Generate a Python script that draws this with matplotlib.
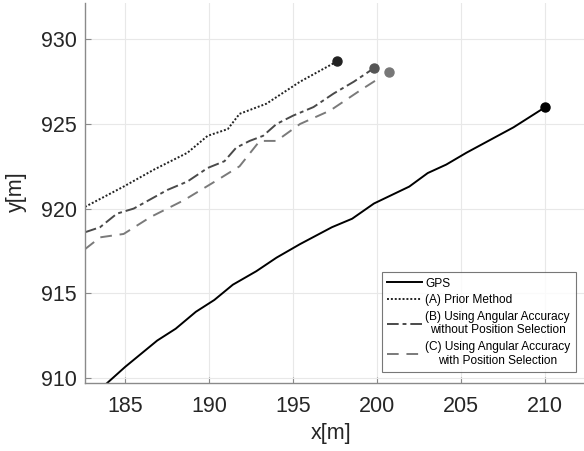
import numpy as np
import matplotlib
matplotlib.use("Agg")
import matplotlib.pyplot as plt

# Trajectories (x[m], y[m])
gps_x = [183.9, 185.0, 186.9, 188.0, 189.2, 190.3, 191.4, 192.8, 194.0, 195.4,
         197.3, 198.5, 199.8, 201.9, 203.0, 204.1, 205.3, 208.1, 210.0]
gps_y = [909.67, 910.65, 912.2, 912.9, 913.9, 914.6, 915.5, 916.3, 917.1, 917.9,
         918.9, 919.4, 920.3, 921.3, 922.1, 922.6, 923.3, 924.8, 926.0]

a_x = [182.6, 184.9, 186.7, 188.7, 189.9, 191.1, 191.8, 193.4, 195.4, 197.6]
a_y = [920.1, 921.3, 922.3, 923.3, 924.3, 924.7, 925.6, 926.2, 927.5, 928.7]

b_x = [182.6, 183.5, 184.5, 185.5, 187.5, 188.7, 189.9, 190.9, 191.6, 192.4,
       193.2, 194.0, 195.0, 196.2, 197.4, 198.6, 199.8]
b_y = [918.6, 918.9, 919.7, 920.0, 921.1, 921.6, 922.4, 922.8, 923.6, 924.0,
       924.3, 925.0, 925.5, 926.0, 926.8, 927.5, 928.3]

c_x = [182.6, 183.5, 184.9, 186.5, 188.5, 190.5, 191.8, 193.0, 194.0, 195.4,
       197.2, 199.0, 200.1]
c_y = [917.6, 918.3, 918.5, 919.5, 920.5, 921.7, 922.5, 924.0, 924.0, 925.0,
       925.8, 927.0, 927.7]
c_end = (200.7, 928.1)

labels = ["GPS",
          "(A) Prior Method",
          "(B) Using Angular Accuracy\nwithout Position Selection",
          "(C) Using Angular Accuracy\nwith Position Selection"]

plt.rcParams['font.family'] = ['Liberation Sans', 'DejaVu Sans']

fig = plt.figure(figsize=(5.84, 4.51), dpi=100)
ax = fig.add_axes([0.1455, 0.150, 0.8545, 0.8433])

ax.plot(gps_x, gps_y, color='black', lw=1.4, ls='-', label=labels[0])
ax.plot(a_x, a_y, color='#222222', lw=1.4, ls=(0, (1, 1)), label=labels[1])
ax.plot(b_x, b_y, color='#4a4a4a', lw=1.4, ls=(0, (6, 2, 2, 2)), label=labels[2])
ax.plot(c_x, c_y, color='#7a7a7a', lw=1.4, ls=(0, (6, 4)), label=labels[3])

# end markers
ax.plot(gps_x[-1], gps_y[-1], 'o', color='black', ms=6.5)
ax.plot(a_x[-1], a_y[-1], 'o', color='#222222', ms=6.5)
ax.plot(b_x[-1], b_y[-1], 'o', color='#555555', ms=6.5)
ax.plot(c_end[0], c_end[1], 'o', color='#777777', ms=6.5)

ax.set_xlim(182.6, 212.3)
ax.set_ylim(909.67, 932.15)
ax.set_xticks([185, 190, 195, 200, 205, 210])
ax.set_yticks([910, 915, 920, 925, 930])

ax.grid(True, color='#e8e8e8', lw=0.8)
ax.set_axisbelow(True)
for side in ['top', 'right']:
    ax.spines[side].set_visible(False)
for side in ['left', 'bottom']:
    ax.spines[side].set_color('#8a8a8a')
    ax.spines[side].set_linewidth(1.0)
ax.tick_params(direction='in', length=4, width=0.8, color='#8a8a8a',
               labelsize=15.5, labelcolor='#262626')
ax.tick_params(axis='x', pad=9)
ax.tick_params(axis='y', pad=6)

ax.set_xlabel('x[m]', fontsize=15.5, color='#262626')
ax.set_ylabel('y[m]', fontsize=15.5, color='#262626')
ax.xaxis.set_label_coords(0.494, -0.105)
ax.yaxis.set_label_coords(-0.116, 0.503)

leg = ax.legend(loc='lower right', bbox_to_anchor=(0.984, 0.03), fontsize=8.6,
                frameon=True, fancybox=False, handlelength=2.9, handletextpad=0.3,
                borderpad=0.45, labelspacing=0.4, borderaxespad=0)
leg.get_frame().set_edgecolor('#555555')
leg.get_frame().set_linewidth(0.8)
for t in leg.get_texts():
    t.set_multialignment('center')
    t.set_linespacing(1.15)

fig.savefig('out.png', dpi=100)
